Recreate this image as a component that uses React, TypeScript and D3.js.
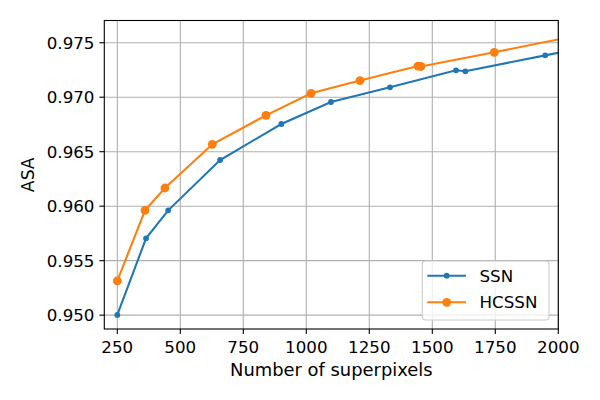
import React from "react"
import * as d3 from "d3"

// values
const ssnX = [250, 364, 452, 658, 901, 1098, 1332, 1594, 1631, 1948, 2150]
const ssnY = [0.95002, 0.95705, 0.95962, 0.96424, 0.96754, 0.96956, 0.97091, 0.97247, 0.97238, 0.97384, 0.97478]
const hcX = [250, 360, 439, 627, 840, 1019, 1213, 1443, 1455, 1746, 2150]
const hcY = [0.95314, 0.95962, 0.96167, 0.96568, 0.96834, 0.97036, 0.97153, 0.97286, 0.97282, 0.97412, 0.97601]
const xTicks = [250, 500, 750, 1000, 1250, 1500, 1750, 2000]
const yTicks = [0.95, 0.955, 0.96, 0.965, 0.97, 0.975]

const W = 600
const H = 400
const margin = { top: 20.5, right: 41.7, bottom: 71, left: 104.3 }
const font = "DejaVu Sans, sans-serif"
const fs = 16.7

const series = [
  { name: "SSN", xs: ssnX, ys: ssnY, color: "#1f77b4", r: 2.9 },
  { name: "HCSSN", xs: hcX, ys: hcY, color: "#ff7f0e", r: 4.4 },
]

export default function App() {
  const x = d3.scaleLinear().domain([198.4, 2000]).range([margin.left, W - margin.right])
  const y = d3.scaleLinear().domain([0.94873, 0.97704]).range([H - margin.bottom, margin.top])
  const line = d3
    .line<[number, number]>()
    .x((d) => x(d[0]))
    .y((d) => y(d[1]))

  const x0 = margin.left
  const x1 = W - margin.right
  const y0 = margin.top
  const y1 = H - margin.bottom

  return (
    <svg width={W} height={H} style={{ position: "absolute", left: 0, top: 0 }} fontFamily={font}>
      <rect width={W} height={H} fill="white" />
      <defs>
        <clipPath id="plot">
          <rect x={x0} y={y0} width={x1 - x0} height={y1 - y0} />
        </clipPath>
      </defs>

      {/* grid */}
      {xTicks.map((t) => (
        <line key={"gx" + t} x1={x(t)} x2={x(t)} y1={y0} y2={y1} stroke="#b0b0b0" strokeWidth={1.1} />
      ))}
      {yTicks.map((t) => (
        <line key={"gy" + t} x1={x0} x2={x1} y1={y(t)} y2={y(t)} stroke="#b0b0b0" strokeWidth={1.1} />
      ))}

      {/* series */}
      <g clipPath="url(#plot)">
        {series.map((s) => {
          const pts = s.xs.map((v, i) => [v, s.ys[i]] as [number, number])
          return (
            <g key={s.name}>
              <path d={line(pts) || ""} fill="none" stroke={s.color} strokeWidth={2.08} />
              {pts.map((p, i) => (
                <circle key={i} cx={x(p[0])} cy={y(p[1])} r={s.r} fill={s.color} />
              ))}
            </g>
          )
        })}
      </g>

      {/* frame */}
      <rect x={x0} y={y0} width={x1 - x0} height={y1 - y0} fill="none" stroke="black" strokeWidth={1.1} />

      {/* x axis */}
      {xTicks.map((t) => (
        <g key={"tx" + t}>
          <line x1={x(t)} x2={x(t)} y1={y1} y2={y1 + 4.9} stroke="black" strokeWidth={1.1} />
          <text x={x(t)} y={y1 + 24} textAnchor="middle" fontSize={fs} fill="black">
            {t}
          </text>
        </g>
      ))}
      <text x={(x0 + x1) / 2} y={375.5} textAnchor="middle" fontSize={17.9} fill="black">
        Number of superpixels
      </text>

      {/* y axis */}
      {yTicks.map((t) => (
        <g key={"ty" + t}>
          <line x1={x0 - 4.9} x2={x0} y1={y(t)} y2={y(t)} stroke="black" strokeWidth={1.1} />
          <text x={x0 - 9.8} y={y(t)} dy="0.35em" textAnchor="end" fontSize={fs} fill="black">
            {d3.format(".3f")(t)}
          </text>
        </g>
      ))}
      <text transform={`translate(34,${(y0 + y1) / 2}) rotate(-90)`} textAnchor="middle" fontSize={17.2} fill="black">
        ASA
      </text>

      {/* legend */}
      <g>
        <rect x={422.3} y={261} width={126.7} height={59} rx={3.5} fill="white" fillOpacity={0.8} stroke="#cccccc" strokeWidth={1.1} />
        {series.map((s, i) => {
          const ly = 275.7 + i * 26.6
          return (
            <g key={"lg" + s.name}>
              <line x1={427.3} x2={466} y1={ly} y2={ly} stroke={s.color} strokeWidth={2.08} />
              <circle cx={446.7} cy={ly} r={s.r} fill={s.color} />
              <text x={479.5} y={ly} dy="0.35em" fontSize={fs} fill="black">
                {s.name}
              </text>
            </g>
          )
        })}
      </g>
    </svg>
  )
}
